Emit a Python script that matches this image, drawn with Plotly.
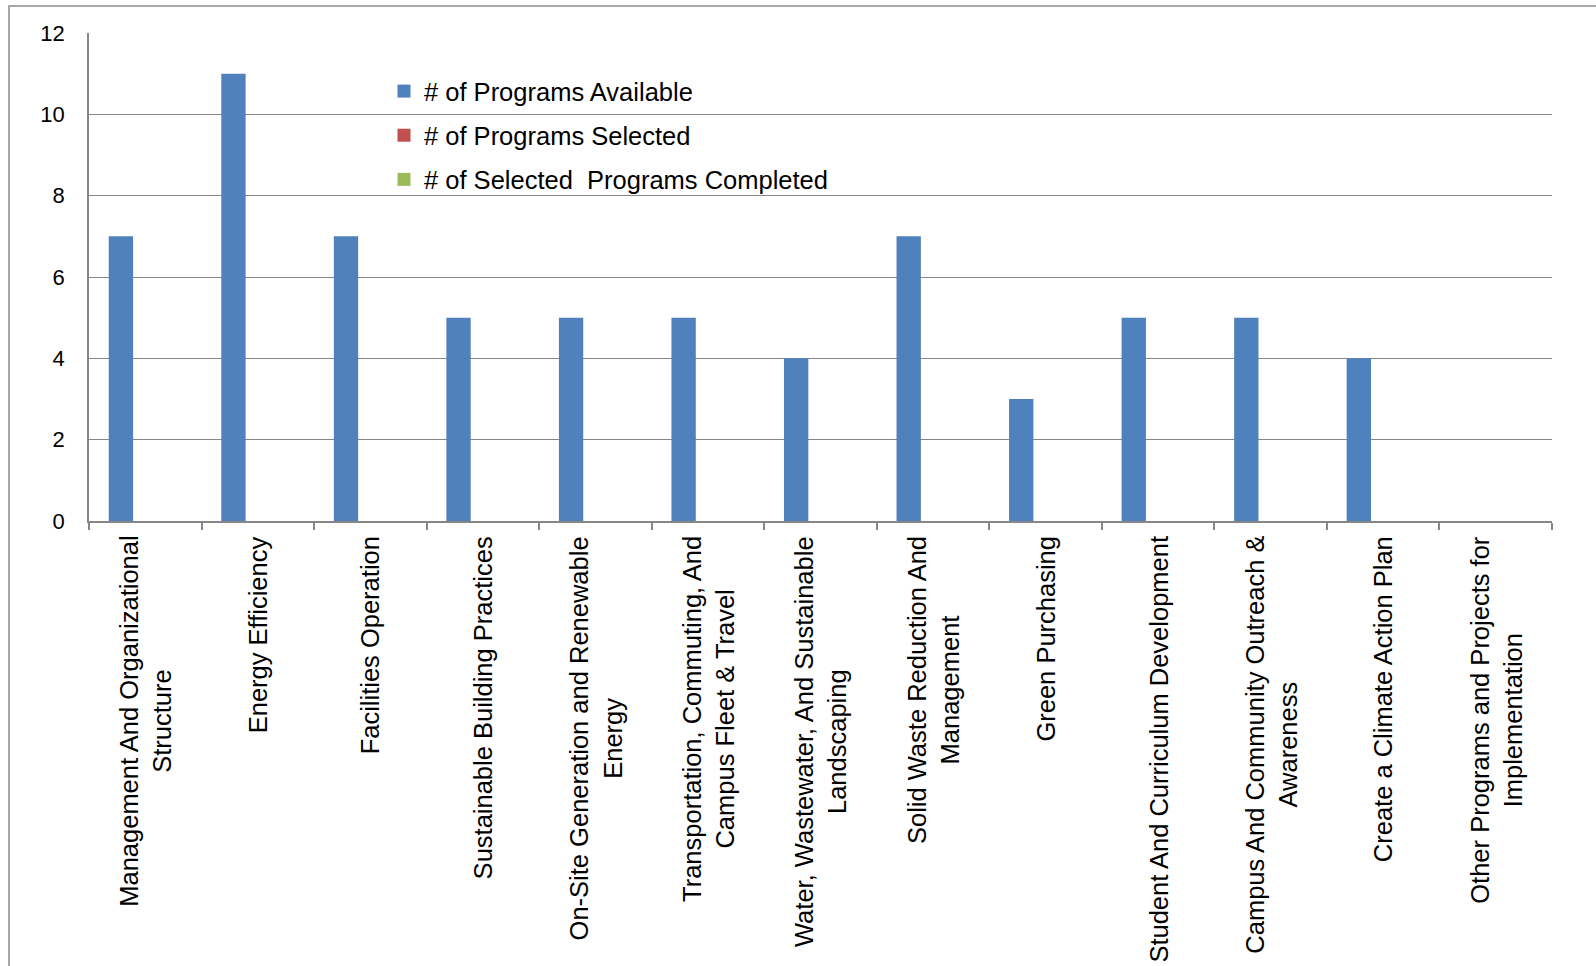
import plotly.graph_objects as go

categories = [
    "Management And Organizational<br>Structure",
    "Energy Efficiency",
    "Facilities Operation",
    "Sustainable Building Practices",
    "On-Site Generation and Renewable<br>Energy",
    "Transportation, Commuting, And<br>Campus Fleet & Travel",
    "Water, Wastewater, And Sustainable<br>Landscaping",
    "Solid Waste Reduction And<br>Management",
    "Green Purchasing",
    "Student And Curriculum Development",
    "Campus And Community Outreach &<br>Awareness",
    "Create a Climate Action Plan",
    "Other Programs and Projects for<br>Implementation",
]
available = [7, 11, 7, 5, 5, 5, 4, 7, 3, 5, 5, 4, 0]
selected = [0, 0, 0, 0, 0, 0, 0, 0, 0, 0, 0, 0, 0]
completed = [0, 0, 0, 0, 0, 0, 0, 0, 0, 0, 0, 0, 0]
series_names = ["# of Programs Available", "# of Programs Selected",
                "# of Selected  Programs Completed"]
series_colors = ["#4F81BD", "#C0504D", "#9BBB59"]
y_ticks = [0, 2, 4, 6, 8, 10, 12]

fig = go.Figure()
for i, (name, vals, col) in enumerate(zip(series_names, [available, selected, completed], series_colors)):
    fig.add_trace(go.Bar(x=categories, y=vals, name=name, marker_color=col,
                         marker_line_width=0, showlegend=False))
for i, (name, col) in enumerate(zip(series_names, series_colors)):
    fig.add_trace(go.Scatter(x=[None], y=[None], mode="markers", name=name,
                             marker=dict(symbol="square", size=13, color=col),
                             legendgroup=f"g{i}"))

W, H = 1596, 966
L, R, T, B = 89, 44, 33, 445
pw, ph = W - L - R, H - T - B

annotations = [
    dict(x=c, y=0, xref="x", yref="y", text=c, showarrow=False, textangle=-90,
         xanchor="center", yanchor="top", yshift=-13, align="center",
         font=dict(size=25.5, color="black"))
    for c in categories
]

fig.update_layout(
    width=W, height=H,
    margin=dict(l=L, r=R, t=T, b=B, autoexpand=False),
    paper_bgcolor="white", plot_bgcolor="white",
    barmode="group", bargap=0.351, bargroupgap=0,
    font=dict(family="Liberation Sans, Arial, sans-serif", color="black"),
    showlegend=True,
    legend=dict(x=(384 - L) / pw, y=1 - (68 - T) / ph, xanchor="left", yanchor="top",
                bgcolor="rgba(0,0,0,0)", font=dict(size=25.5),
                traceorder="grouped", tracegroupgap=8, itemwidth=30),
    xaxis=dict(tickson="boundaries", ticks="outside", ticklen=7, showticklabels=False,
               tickcolor="#868686", tickwidth=1.5, showline=True, linecolor="#868686",
               linewidth=1.5, showgrid=False),
    yaxis=dict(range=[0, 12], tickvals=y_ticks, ticks="outside", ticklen=18,
               tickcolor="rgba(0,0,0,0)", showgrid=True, gridcolor="#868686",
               gridwidth=1.3, showline=True, linecolor="#868686", linewidth=1.5,
               tickfont=dict(size=22), zeroline=False),
    annotations=annotations,
    shapes=[dict(type="rect", xref="paper", yref="paper",
                 x0=(9 - L) / pw, x1=(1605 - L) / pw,
                 y0=-(975 - (H - B)) / ph, y1=1 + (T - 6) / ph,
                 line=dict(color="#8c8c8c", width=1.5), layer="below")],
)

fig.write_html("out.html", config={"displayModeBar": False},
               post_script="document.body.style.margin='0';")
